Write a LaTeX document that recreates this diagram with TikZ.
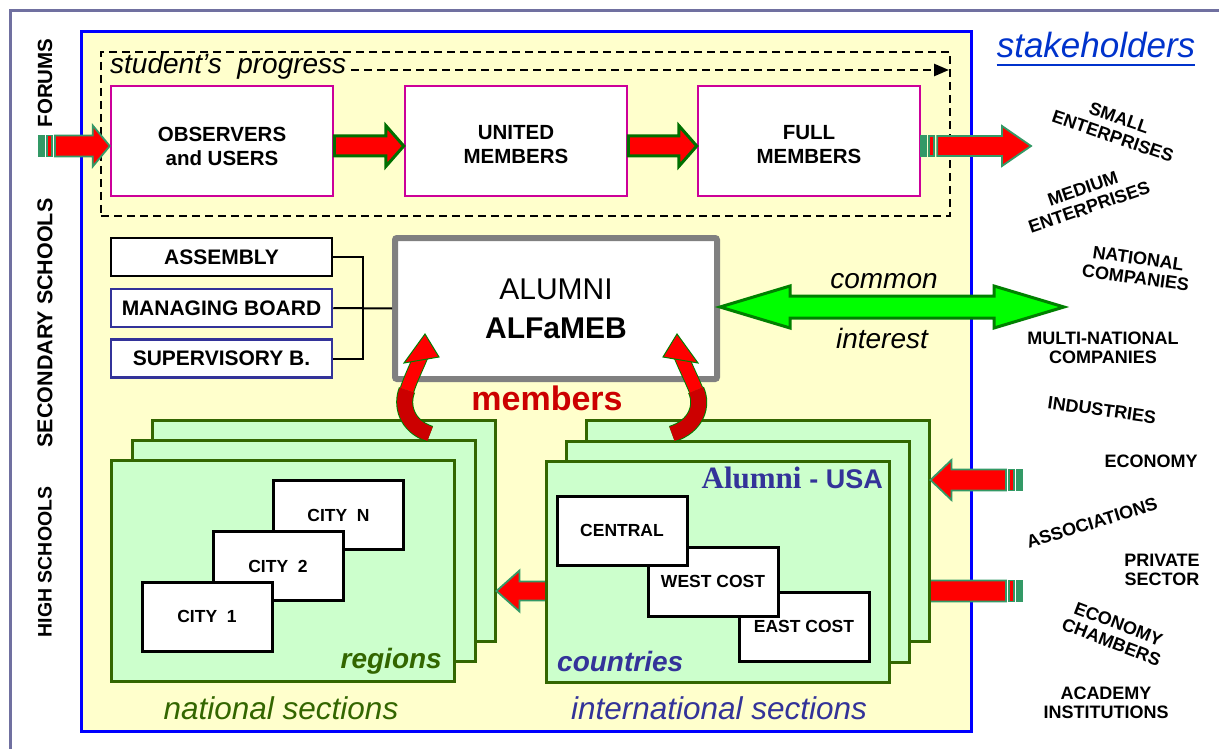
\documentclass[tikz,border=0pt]{standalone}
\usepackage{fontspec}
\setmainfont{Liberation Sans}
\newfontfamily\serifbold{Liberation Serif}
\usetikzlibrary{calc,arrows.meta}
\definecolor{frameG}{RGB}{112,112,160}
\definecolor{mainBlue}{RGB}{0,0,255}
\definecolor{bgY}{RGB}{255,255,204}
\definecolor{magC}{RGB}{204,0,153}
\definecolor{dkGreen}{RGB}{0,112,0}
\definecolor{tealC}{RGB}{51,153,102}
\definecolor{secFill}{RGB}{204,255,204}
\definecolor{secLine}{RGB}{51,102,0}
\definecolor{navyC}{RGB}{51,51,153}
\definecolor{grayC}{RGB}{128,128,128}
\definecolor{memRed}{RGB}{204,0,0}
\definecolor{stkBlue}{RGB}{0,51,204}
\definecolor{limeC}{RGB}{0,255,0}
\definecolor{limeLine}{RGB}{0,128,0}
\definecolor{curveG}{RGB}{0,128,0}

% horizontal block arrow: tail #1, tip #2, style #3, shaft half #4, head half #5, head length #6
\newcommand\harrow[6]{%
  \path[#3] let \p1=(#1), \p2=(#2), \n1={ifthenelse(\x2>\x1,1,-1)} in
    (\x1,\y1+#4) -- ({\x2-(\n1)*#6},\y1+#4) -- ({\x2-(\n1)*#6},\y1+#5) -- (\x2,\y1)
    -- ({\x2-(\n1)*#6},\y1-#5) -- ({\x2-(\n1)*#6},\y1-#4) -- (\x1,\y1-#4) -- cycle;}
% striped block arrow
\newcommand\sarrow[6]{%
  \path[tealstripe] let \p1=(#1), \p2=(#2), \n1={ifthenelse(\x2>\x1,1,-1)} in
    (\x1,\y1+#4) rectangle ({\x1+(\n1)*5pt},\y1-#4);
  \path[#3] let \p1=(#1), \p2=(#2), \n1={ifthenelse(\x2>\x1,1,-1)} in
    ({\x1+(\n1)*8pt},\y1+#4) rectangle ({\x1+(\n1)*13pt},\y1-#4);
  \path[#3] let \p1=(#1), \p2=(#2), \n1={ifthenelse(\x2>\x1,1,-1)} in
    ({\x1+(\n1)*16pt},\y1+#4) -- ({\x2-(\n1)*#6},\y1+#4) -- ({\x2-(\n1)*#6},\y1+#5) -- (\x2,\y1)
    -- ({\x2-(\n1)*#6},\y1-#5) -- ({\x2-(\n1)*#6},\y1-#4) -- ({\x1+(\n1)*16pt},\y1-#4) -- cycle;}

\begin{document}
\begin{tikzpicture}[x=1pt,y=-1pt,
  mbox/.style={draw=magC, line width=2.5pt, fill=white, minimum width=222pt, minimum height=110pt, inner sep=0pt},
  mtext/.style={inner sep=0pt, align=center, font=\bfseries\fontsize{20.5}{24}\selectfont},
  gbox/.style={fill=white, line width=2.5pt, minimum width=221pt, minimum height=38pt, inner sep=0pt, font=\bfseries\fontsize{21}{24}\selectfont},
  alumbox/.style={draw=grayC, fill=white, line width=6pt, rounded corners=2pt, minimum width=322pt, minimum height=141pt, inner sep=0pt, align=center, font=\fontsize{30}{39}\selectfont},
  secbox/.style={draw=secLine, fill=secFill, line width=3pt, minimum width=343pt, minimum height=221pt, inner sep=0pt},
  citybox/.style={draw=black, fill=white, line width=3pt, minimum width=130pt, minimum height=69pt, inner sep=0pt, font=\bfseries\fontsize{17.5}{20}\selectfont},
  sidelbl/.style={rotate=90, inner sep=0pt, font=\bfseries\fontsize{20.5}{24}\selectfont},
  stake/.style={inner sep=0pt, align=center, font=\bfseries\fontsize{18}{19.5}\selectfont},
  greenarrow/.style={fill=red, draw=dkGreen, line width=3pt},
  tealarrow/.style={fill=red, draw=tealC, line width=1.8pt},
  tealstripe/.style={fill=tealC, draw=tealC, line width=1.8pt},
  dblarrow/.style={fill=limeC, draw=limeLine, line width=3pt},
  progline/.style={draw=black, line width=2.5pt, dash pattern=on 8pt off 5pt},
]
\useasboundingbox (0,0) rectangle (1219,749);
\fill[white] (0,0) rectangle (1219,749);
\draw[frameG, line width=3pt] (10.5,749) -- (10.5,10.5) -- (1219,10.5);
\draw[mainBlue, fill=bgY, line width=3pt] (81.5,31.5) rectangle (971.5,731.5);

% side labels
\node[sidelbl] (forums) at (45,83) {FORUMS};
\node[sidelbl, font=\bfseries\fontsize{21.5}{24}\selectfont] (secsch) at (45,323) {SECONDARY SCHOOLS};
\node[sidelbl, font=\bfseries\fontsize{19.5}{24}\selectfont] (highsch) at (45,562) {HIGH SCHOOLS};

% student's progress
\node[progline, minimum width=849pt, minimum height=164pt, inner sep=0pt] (prog) at (525.5,134) {};
\node[anchor=base west, inner sep=0pt, font=\itshape\fontsize{28}{30}\selectfont] (sp) at (110,74) {student’s~~progress};
\coordinate (progtip) at (949,70);
\draw[progline, -{Triangle[length=15pt,width=12pt]}] ($(sp.base east)+(5,-4)$) -- (progtip);

\node[mbox] (obs) at (222,141) {};
\node[mbox] (uni) at (516,141) {};
\node[mbox] (full) at (809,141) {};
\node[mtext] (obst) at ($(obs.center)+(0,5)$) {OBSERVERS\\and USERS};
\node[mtext] (unit) at ($(uni.center)+(0,4)$) {UNITED\\MEMBERS};
\node[mtext] (fullt) at ($(full.center)+(0,4)$) {FULL\\MEMBERS};

\coordinate (fin) at (39,146);
\coordinate (fout) at (1031,146);
\sarrow{fin}{obs.west |- fin}{tealarrow}{10.5pt}{20.5pt}{17pt}
\harrow{obs.east |- fin}{uni.west |- fin}{greenarrow}{10pt}{20.5pt}{18pt}
\harrow{uni.east |- fin}{full.west |- fin}{greenarrow}{10pt}{20.5pt}{18pt}
\sarrow{full.east |- fin}{fout}{tealarrow}{10pt}{20pt}{29pt}

% stakeholders title
\node[inner sep=0pt, anchor=base, text=stkBlue, font=\itshape\fontsize{35}{40}\selectfont] (stk) at (1096,58) {stakeholders};
\draw[stkBlue, line width=2.5pt] ([yshift=-7pt]stk.base west) -- ([yshift=-7pt]stk.base east);

% governance
\node[gbox, draw=black] (asm) at (221.5,257) {ASSEMBLY};
\node[gbox, draw=navyC] (mgb) at (221.5,308) {MANAGING BOARD};
\node[gbox, draw=navyC] (sup) at (221.5,358.5) {SUPERVISORY B.};
\node[alumbox] (alum) at (556,308.5) {ALUMNI\\\textbf{ALFaMEB}};
\draw[line width=2pt] (asm.east) -- ++(30,0) |- (sup.east);
\draw[line width=2pt] (mgb.east) -- (alum.west);

% common interest
\coordinate (gend) at (1064,307);
\path[dblarrow] let \p1=(alum.east |- gend), \p2=(gend) in
  (\x1,\y1) -- (\x1+70pt,\y1+21pt) -- (\x1+70pt,\y1+11pt) -- (\x2-70pt,\y1+11pt) -- (\x2-70pt,\y1+21pt)
  -- (\x2,\y1) -- (\x2-70pt,\y1-21pt) -- (\x2-70pt,\y1-11pt) -- (\x1+70pt,\y1-11pt) -- (\x1+70pt,\y1-21pt) -- cycle;
\node[font=\itshape\fontsize{28}{32}\selectfont, inner sep=0pt] (common) at (884,281) {common};
\node[font=\itshape\fontsize{28}{32}\selectfont, inner sep=0pt] (interest) at (882,338) {interest};

\node[text=memRed, font=\bfseries\fontsize{34}{40}\selectfont, inner sep=0pt] (mem) at (547,398) {members};

% national sections
\node[secbox] (natback) at (323.5,530.5) {};
\node[secbox] (natmid) at (303.5,551) {};
\node[secbox] (natfront) at (283,571) {};
\node[citybox] (cityn) at (338.5,515) {CITY~~N};
\node[citybox] (city2) at (278,566) {CITY~~2};
\node[citybox] (city1) at (207,616.5) {CITY~~1};
\node[anchor=east, inner sep=0pt, text=secLine, font=\bfseries\itshape\fontsize{28}{32}\selectfont] (regions) at (442,661) {regions};
\node[text=secLine, font=\itshape\fontsize{31.5}{36}\selectfont, inner sep=0pt] (natsec) at (281,708) {national sections};

% arrow international -> national (tail hidden)
\coordinate (satail) at (560,591);
\harrow{satail}{natback.east |- satail}{tealarrow}{9.5pt}{20.5pt}{23pt}
% right arrow 2 (head hidden)
\coordinate (r2tail) at (1022,591);
\coordinate (r2tip) at (905,591);
\sarrow{r2tail}{r2tip}{tealarrow}{10.5pt}{20pt}{21pt}

% international sections
\node[secbox] (intback) at (757.5,531) {};
\node[secbox] (intmid) at (737.5,551.5) {};
\node[secbox] (intfront) at (718,571.5) {};
\node[citybox] (eastc) at (804,626.5) {EAST COST};
\node[citybox] (westc) at (713,581.5) {WEST COST};
\node[citybox] (central) at (622,530.5) {CENTRAL};
\node[anchor=east, inner sep=0pt, text=navyC] (usa) at (883,478) {{\serifbold\bfseries\fontsize{31}{34}\selectfont Alumni }{\bfseries\fontsize{27}{30}\selectfont -~USA}};
\node[anchor=west, inner sep=0pt, text=navyC, font=\bfseries\itshape\fontsize{28}{32}\selectfont] (countries) at (557,661) {countries};
\node[text=navyC, font=\itshape\fontsize{31.5}{36}\selectfont, inner sep=0pt] (intsec) at (719,708) {international sections};

% right arrow 1
\coordinate (r1tail) at (1022,480);
\sarrow{r1tail}{intback.east |- r1tail}{tealarrow}{10.5pt}{20pt}{21pt}

% curved member arrows
\draw[curveG, line width=17pt] (430,434) .. controls (406,426) and (401,405) .. (407,390);
\draw[curveG, line width=15pt] (407,390) .. controls (411,378) and (416,368) .. (421,356);
\draw[memRed, line width=15pt] (430,434) .. controls (406,426) and (401,405) .. (407,390);
\draw[red, line width=13pt] (407,390) .. controls (411,378) and (416,368) .. (421,356);
\filldraw[fill=red, draw=curveG, line width=1pt] (425,334) -- (439,357) -- (404,363) -- cycle;

\draw[curveG, line width=17pt] (672,434) .. controls (697,426) and (703,405) .. (696,390);
\draw[curveG, line width=15pt] (696,390) .. controls (691,378) and (686,368) .. (681,356);
\draw[memRed, line width=15pt] (672,434) .. controls (697,426) and (703,405) .. (696,390);
\draw[red, line width=13pt] (696,390) .. controls (691,378) and (686,368) .. (681,356);
\filldraw[fill=red, draw=curveG, line width=1pt] (677,334) -- (663,357) -- (698,363) -- cycle;

% stakeholder labels
\node[stake, rotate=-19] (small) at (1116,127) {SMALL\\ENTERPRISES};
\node[stake, rotate=19] (medium) at (1086,198) {MEDIUM\\ENTERPRISES};
\node[stake, rotate=-8] (natcomp) at (1137,268) {NATIONAL\\COMPANIES};
\node[stake] (multi) at (1103,348) {MULTI-NATIONAL\\COMPANIES};
\node[stake, rotate=-8] (ind) at (1102,410) {INDUSTRIES};
\node[stake] (econ) at (1151,461) {ECONOMY};
\node[stake, rotate=17] (assoc) at (1092,523) {ASSOCIATIONS};
\node[stake] (priv) at (1162,570) {PRIVATE\\SECTOR};
\node[stake, rotate=-21] (chamb) at (1115,633) {ECONOMY\\CHAMBERS};
\node[stake] (acad) at (1106,703) {ACADEMY\\INSTITUTIONS};
\end{tikzpicture}
\end{document}
